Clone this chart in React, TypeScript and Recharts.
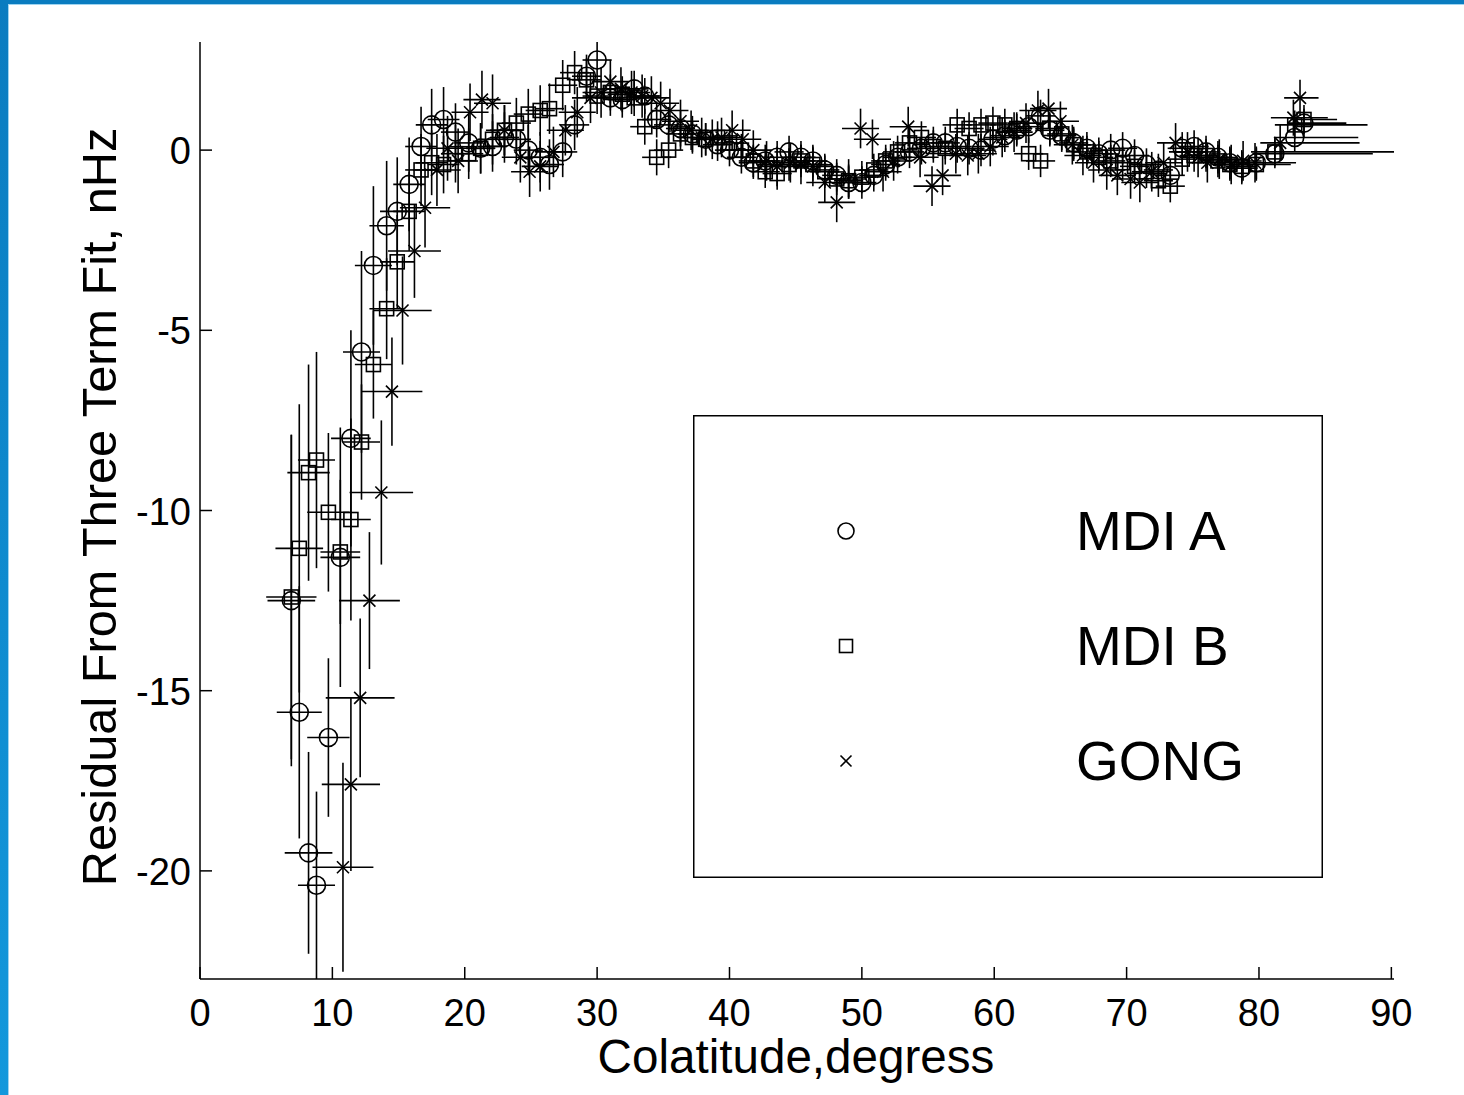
import { ScatterChart, Scatter, XAxis, YAxis, ErrorBar, Legend } from "recharts";

const FONT = '"Liberation Sans", Arial, Helvetica, sans-serif';
const INK = "#000";

const xTicks = [0, 10, 20, 30, 40, 50, 60, 70, 80, 90];
const yTicks = [-20, -15, -10, -5, 0];
const seriesNames = ["MDI A", "MDI B", "GONG"];

// MDI A and MDI B share the same colatitude bins
const mdiColat = [
  6.9, 7.5, 8.2, 8.8, 9.7, 10.6, 11.4, 12.2, 13.1, 14.1, 14.9, 15.8, 16.7, 17.5, 18.4,
  19.3, 20.3, 21.2, 22.1, 23.0, 23.9, 24.8, 25.7, 26.4, 27.4, 28.3, 29.2, 30.0,
  31.0, 31.9, 32.8, 33.6, 34.5, 35.4, 36.3, 37.2, 38.2, 39.1, 40.0,
  40.9, 41.8, 42.7, 43.6, 44.5, 45.4, 46.3, 47.2, 48.1, 49.0, 50.0,
  50.9, 51.8, 52.7, 53.6, 54.5, 55.4, 56.3, 57.2, 58.1, 59.0, 59.9,
  60.8, 61.7, 62.6, 63.5, 64.2, 65.1, 66.0, 67.0, 67.9, 68.8, 69.7,
  70.6, 71.5, 72.4, 73.3, 74.2, 75.1, 76.0, 76.9, 77.8, 78.7, 79.8,
  81.2, 82.7, 83.4,
];

const mdiAResid = [
  -12.5, -15.6, -19.5, -20.4, -16.3, -11.3, -8.0, -5.6, -3.2, -2.1, -1.7, -0.95, 0.1, 0.7, 0.85,
  0.5, 0.2, 0.05, 0.1, 0.35, 0.3, 0.0, -0.2, -0.4, -0.05, 0.7, 2.05, 2.5,
  1.45, 1.4, 1.7, 1.5, 0.85, 0.7, 0.6, 0.45, 0.3, 0.15, 0.0,
  -0.2, -0.35, -0.3, -0.2, -0.05, -0.2, -0.3, -0.55, -0.7, -0.9, -0.9,
  -0.7, -0.4, -0.2, -0.05, 0.05, 0.2, 0.2, 0.1, 0.05, 0.0, 0.3,
  0.4, 0.55, 0.65, 0.95, 0.55, 0.4, 0.2, 0.05, -0.1, 0.0, 0.05,
  -0.15, -0.4, -0.55, -0.7, 0.05, 0.1, -0.05, -0.2, -0.35, -0.5, -0.35,
  -0.1, 0.35, 0.75,
];

const mdiAResidErr = [
  4.6, 3.5, 2.8, 2.6, 2.2, 3.6, 3.0, 2.8, 2.2, 1.8, 1.5, 1.3, 1.1, 1.0, 0.9,
  0.8, 0.8, 0.7, 0.7, 0.7, 0.7, 0.7, 0.7, 0.7, 0.7, 0.7, 0.6, 0.5,
  0.5, 0.5, 0.5, 0.5, 0.5, 0.5, 0.5, 0.5, 0.45, 0.45, 0.45,
  0.45, 0.45, 0.45, 0.45, 0.45, 0.45, 0.45, 0.45, 0.45, 0.45, 0.45,
  0.45, 0.45, 0.45, 0.45, 0.45, 0.45, 0.45, 0.45, 0.45, 0.45, 0.45,
  0.45, 0.45, 0.45, 0.45, 0.45, 0.45, 0.45, 0.45, 0.45, 0.45, 0.45,
  0.45, 0.45, 0.45, 0.45, 0.45, 0.45, 0.45, 0.45, 0.45, 0.45, 0.45,
  0.4, 0.4, 0.4,
];

const mdiAColatErr: (number | number[])[] = [
  1.8, 1.7, 1.8, 1.4, 1.6, 1.5, 1.5, 1.4, 1.4, 1.3, 1.3, 1.2, 1.2, 1.2, 1.2,
  1.1, 1.1, 1.1, 1.1, 1.1, 1.1, 1.1, 1.1, 1.1, 1.1, 1.1, 1.1, 1.1,
  1.1, 1.1, 1.1, 1.1, 1.1, 1.1, 1.1, 1.1, 1.1, 1.1, 1.1,
  1.1, 1.1, 1.1, 1.1, 1.1, 1.1, 1.1, 1.1, 1.1, 1.1, 1.1,
  1.1, 1.1, 1.1, 1.1, 1.1, 1.1, 1.1, 1.1, 1.1, 1.1, 1.1,
  1.1, 1.1, 1.1, 1.1, 1.1, 1.1, 1.1, 1.1, 1.1, 1.1, 1.1,
  1.1, 1.1, 1.1, 1.1, 1.1, 1.1, 1.1, 1.1, 1.2, 1.2, [1.4, 3.0],
  [1.7, 7.4], [1.5, 4.8], [1.2, 3.2],
];

const mdiBResid = [
  -12.4, -11.05, -8.95, -8.6, -10.05, -11.15, -10.25, -8.1, -5.95, -4.4, -3.1, -1.7, -0.55, -0.35, -0.4,
  -0.1, -0.1, 0.05, 0.3, 0.55, 0.75, 1.0, 1.1, 1.15, 1.8, 2.15, 1.95, 1.5,
  1.6, 1.55, 1.45, 0.65, -0.2, 0.0, 0.45, 0.35, 0.3, 0.35, 0.2,
  0.0, -0.3, -0.6, -0.65, -0.4, -0.3, -0.4, -0.6, -0.8, -0.85, -0.75,
  -0.55, -0.3, -0.05, 0.2, 0.35, 0.1, 0.05, 0.7, 0.6, 0.7, 0.75,
  0.7, 0.6, -0.1, -0.3, 0.6, 0.45, 0.15, -0.05, -0.2, -0.3, -0.35,
  -0.45, -0.6, -0.85, -1.0, -0.25, -0.15, -0.15, -0.3, -0.4, -0.45, -0.4,
  -0.05, 0.7, 0.85,
];

const mdiBResidErr = [
  4.5, 4.0, 3.0, 3.0, 2.2, 2.0, 2.8, 1.6, 1.5, 1.4, 1.3, 1.1, 1.0, 0.9, 0.8,
  0.8, 0.7, 0.7, 0.7, 0.7, 0.7, 0.7, 0.7, 0.7, 0.7, 0.6, 0.6, 0.5,
  0.5, 0.5, 0.5, 0.5, 0.5, 0.5, 0.45, 0.45, 0.45, 0.45, 0.45,
  0.45, 0.45, 0.45, 0.45, 0.45, 0.45, 0.45, 0.45, 0.45, 0.45, 0.45,
  0.45, 0.45, 0.45, 0.45, 0.45, 0.45, 0.45, 0.45, 0.45, 0.45, 0.45,
  0.45, 0.45, 0.45, 0.45, 0.45, 0.45, 0.45, 0.45, 0.45, 0.45, 0.45,
  0.45, 0.45, 0.45, 0.45, 0.45, 0.45, 0.45, 0.45, 0.45, 0.45, 0.45,
  0.4, 0.4, 0.4,
];

const mdiBColatErr: (number | number[])[] = [
  1.9, 1.8, 1.6, 1.4, 1.6, 1.5, 1.5, 1.4, 1.4, 1.3, 1.3, 1.2, 1.2, 1.2, 1.2,
  1.1, 1.1, 1.1, 1.1, 1.1, 1.1, 1.1, 1.1, 1.1, 1.1, 1.1, 1.1, 1.1,
  1.1, 1.1, 1.1, 1.1, 1.1, 1.1, 1.1, 1.1, 1.1, 1.1, 1.1,
  1.1, 1.1, 1.1, 1.1, 1.1, 1.1, 1.1, 1.1, 1.1, 1.1, 1.1,
  1.1, 1.1, 1.1, 1.1, 1.1, 1.1, 1.1, 1.1, 1.1, 1.1, 1.1,
  1.1, 1.1, 1.1, 1.1, 1.1, 1.1, 1.1, 1.1, 1.1, 1.1, 1.1,
  1.1, 1.1, 1.1, 1.1, 1.1, 1.1, 1.1, 1.1, 1.2, 1.2, [1.4, 2.6],
  [1.8, 9.0], [1.5, 5.5], [1.0, 2.5],
];

const gongColat = [
  10.8, 11.4, 12.1, 12.8, 13.7, 14.5, 15.3, 16.2, 17.0, 17.9, 18.7, 19.5,
  20.4, 21.3, 22.1, 23.0, 24.2, 24.9, 25.7, 26.7, 27.6, 28.5, 29.5, 30.3,
  31.0, 31.8, 32.6, 33.4, 34.1, 34.8, 35.5, 36.3, 37.1, 37.9, 38.7, 39.4,
  40.2, 41.0, 41.8, 42.8, 43.6, 44.6, 45.4, 46.3, 47.2, 48.1, 49.0, 49.9,
  50.8, 51.6, 52.4, 53.5, 54.4, 55.3, 56.1, 57.1, 58.0, 58.8, 59.7,
  60.6, 61.5, 62.4, 63.3, 64.1, 65.0, 65.9, 66.7, 67.5, 68.5, 69.3,
  70.3, 71.0, 71.9, 72.8, 73.7, 74.6, 75.4, 76.1, 77.0, 77.9, 78.8, 79.7,
  81.6, 82.6, 83.1,
];

const gongResid = [
  -19.9, -17.6, -15.2, -12.5, -9.5, -6.7, -4.45, -2.8, -1.6, -0.55, 0.05, -0.3,
  1.05, 1.4, 1.3, 0.55, -0.2, -0.6, -0.45, -0.05, 0.55, 1.05, 1.45, 1.6,
  1.9, 1.7, 1.6, 1.5, 1.45, 1.3, 1.1, 0.8, 0.55, 0.35, 0.3, 0.35,
  0.55, 0.3, 0.0, -0.3, -0.45, -0.35, -0.4, -0.45, -0.9, -1.45, -0.8, 0.6,
  0.3, -0.6, -0.3, 0.65, -0.2, -1.0, -0.7, -0.1, -0.15, -0.1, 0.1,
  0.35, 0.5, 0.75, 1.1, 1.15, 0.8, 0.15, -0.15, -0.35, -0.55, -0.7,
  -0.8, -0.9, -0.6, -0.35, 0.2, -0.05, -0.2, -0.35, -0.25, -0.4, -0.3, -0.35,
  0.2, 0.9, 1.45,
];

const gongResidErr = [
  2.9, 2.4, 2.2, 1.9, 2.0, 1.5, 1.5, 1.3, 1.1, 1.0, 0.9, 0.9,
  0.8, 0.8, 0.8, 0.7, 0.7, 0.7, 0.7, 0.7, 0.7, 0.7, 0.7, 0.7,
  0.6, 0.6, 0.6, 0.6, 0.6, 0.6, 0.6, 0.6, 0.55, 0.55, 0.55, 0.55,
  0.55, 0.55, 0.55, 0.55, 0.55, 0.55, 0.55, 0.55, 0.55, 0.55, 0.55, 0.55,
  0.55, 0.55, 0.55, 0.55, 0.55, 0.55, 0.55, 0.55, 0.55, 0.55, 0.55,
  0.55, 0.55, 0.55, 0.55, 0.55, 0.55, 0.55, 0.55, 0.55, 0.55, 0.55,
  0.55, 0.55, 0.55, 0.55, 0.55, 0.55, 0.55, 0.55, 0.55, 0.55, 0.55, 0.55,
  0.5, 0.5, 0.5,
];

const gongColatErr: (number | number[])[] = [
  2.3, 2.2, 2.6, 2.3, 2.4, 2.3, 2.2, 2.0, 1.9, 1.8, 1.6, 1.5,
  1.4, 1.4, 1.4, 1.4, 1.4, 1.4, 1.4, 1.4, 1.4, 1.4, 1.4, 1.4,
  1.4, 1.4, 1.4, 1.4, 1.4, 1.4, 1.4, 1.4, 1.4, 1.4, 1.4, 1.4,
  1.4, 1.4, 1.4, 1.4, 1.4, 1.4, 1.4, 1.4, 1.4, 1.4, 1.4, 1.4,
  1.4, 1.4, 1.4, 1.4, 1.4, 1.4, 1.4, 1.4, 1.4, 1.4, 1.4,
  1.4, 1.4, 1.4, 1.4, 1.4, 1.4, 1.4, 1.4, 1.4, 1.4, 1.4,
  1.4, 1.4, 1.4, 1.4, 1.4, 1.4, 1.4, 1.4, 1.4, 1.4, 1.4, 1.4,
  [1.5, 6.0], [1.7, 2.6], [1.2, 1.4],
];

type Point = { x: number; y: number; ex: number | number[]; ey: number };

function buildSeries(
  colat: number[],
  resid: number[],
  colatErr: (number | number[])[],
  residErr: number[]
): Point[] {
  return colat.map((x, i) => ({ x, y: resid[i], ex: colatErr[i], ey: residErr[i] }));
}

const mdiA = buildSeries(mdiColat, mdiAResid, mdiAColatErr, mdiAResidErr);
const mdiB = buildSeries(mdiColat, mdiBResid, mdiBColatErr, mdiBResidErr);
const gong = buildSeries(gongColat, gongResid, gongColatErr, gongResidErr);

const CircleMark = ({ cx, cy, r = 9 }: any) => (
  <circle cx={cx} cy={cy} r={r} fill="none" stroke={INK} strokeWidth={1.6} />
);

const SquareMark = ({ cx, cy, s = 7 }: any) => (
  <rect x={cx - s} y={cy - s} width={2 * s} height={2 * s} fill="none" stroke={INK} strokeWidth={1.6} />
);

const CrossMark = ({ cx, cy, s = 6 }: any) => (
  <path
    d={`M${cx - s},${cy - s}L${cx + s},${cy + s}M${cx - s},${cy + s}L${cx + s},${cy - s}`}
    stroke={INK}
    strokeWidth={1.6}
    fill="none"
  />
);

const XTick = ({ x, y, payload }: any) => (
  <g>
    <line x1={x} y1={y} x2={x} y2={y - 12} stroke={INK} strokeWidth={1.5} />
    <text x={x} y={y + 47} textAnchor="middle" fontSize={38} fontFamily={FONT} fill={INK}>
      {payload.value}
    </text>
  </g>
);

const YTick = ({ x, y, payload }: any) => (
  <g>
    <line x1={x} y1={y} x2={x + 12} y2={y} stroke={INK} strokeWidth={1.5} />
    <text x={x - 9} y={y + 14} textAnchor="end" fontSize={38} fontFamily={FONT} fill={INK}>
      {payload.value}
    </text>
  </g>
);

const XTitle = () => (
  <text x={796} y={1073} textAnchor="middle" fontSize={47.6} fontFamily={FONT} fill={INK}>
    Colatitude,degress
  </text>
);

const YTitle = () => (
  <text
    x={116}
    y={507}
    transform="rotate(-90, 116, 507)"
    textAnchor="middle"
    fontSize={48.7}
    fontFamily={FONT}
    fill={INK}
  >
    Residual From Three Term Fit, nHz
  </text>
);

const legendMarks = [
  <CircleMark cx={153} cy={116} r={8} />,
  <SquareMark cx={153} cy={231} s={6.5} />,
  <CrossMark cx={153} cy={346} s={5.5} />,
];

const LegendBox = () => (
  <svg width={630} height={463} style={{ display: "block" }}>
    <rect x={0.75} y={0.75} width={628.5} height={461.5} fill="#fff" stroke={INK} strokeWidth={1.5} />
    {seriesNames.map((name, i) => (
      <g key={name}>
        {legendMarks[i]}
        <text x={383} y={135 + i * 115} fontSize={55} fontFamily={FONT} fill={INK}>
          {name}
        </text>
      </g>
    ))}
  </svg>
);

export default function App() {
  return (
    <div
      style={{
        position: "fixed",
        left: 0,
        top: 0,
        width: 1464,
        height: 1095,
        background: "#fff",
        overflow: "hidden",
      }}
    >
      <div style={{ position: "absolute", left: 0, top: 0, width: 1464, height: 4, background: "#0a7cc0" }} />
      <div style={{ position: "absolute", left: 0, top: 4, width: 1464, height: 1, background: "#9fd4f0" }} />
      <div
        style={{
          position: "absolute",
          left: 0,
          top: 0,
          width: 8,
          height: 1095,
          background: "linear-gradient(#0a7cc0, #1398dc)",
        }}
      />
      <div style={{ position: "absolute", left: 8, top: 4, width: 1, height: 1091, background: "#9fd4f0" }} />
      <ScatterChart width={1464} height={1095} margin={{ top: 42, right: 70, left: 0, bottom: 0 }}>
        <XAxis
          type="number"
          dataKey="x"
          domain={[0, 90]}
          ticks={xTicks}
          interval={0}
          height={116}
          tickSize={0}
          tickMargin={0}
          tickLine={false}
          axisLine={{ stroke: INK, strokeWidth: 1.5 }}
          tick={<XTick />}
          label={XTitle}
        />
        <YAxis
          type="number"
          dataKey="y"
          domain={[-23, 3]}
          ticks={yTicks}
          interval={0}
          width={200}
          tickSize={0}
          tickMargin={0}
          tickLine={false}
          axisLine={{ stroke: INK, strokeWidth: 1.5 }}
          tick={<YTick />}
          label={YTitle}
        />
        <Legend
          layout="horizontal"
          verticalAlign="middle"
          align="center"
          content={<LegendBox />}
          wrapperStyle={{ left: 693, top: 415, width: 630, height: 463 }}
        />
        <Scatter name="MDI A" data={mdiA} shape={<CircleMark />} isAnimationActive={false}>
          <ErrorBar dataKey="ex" direction="x" width={0} stroke={INK} strokeWidth={1.6} isAnimationActive={false} />
          <ErrorBar dataKey="ey" direction="y" width={0} stroke={INK} strokeWidth={1.6} isAnimationActive={false} />
        </Scatter>
        <Scatter name="MDI B" data={mdiB} shape={<SquareMark />} isAnimationActive={false}>
          <ErrorBar dataKey="ex" direction="x" width={0} stroke={INK} strokeWidth={1.6} isAnimationActive={false} />
          <ErrorBar dataKey="ey" direction="y" width={0} stroke={INK} strokeWidth={1.6} isAnimationActive={false} />
        </Scatter>
        <Scatter name="GONG" data={gong} shape={<CrossMark />} isAnimationActive={false}>
          <ErrorBar dataKey="ex" direction="x" width={0} stroke={INK} strokeWidth={1.6} isAnimationActive={false} />
          <ErrorBar dataKey="ey" direction="y" width={0} stroke={INK} strokeWidth={1.6} isAnimationActive={false} />
        </Scatter>
      </ScatterChart>
    </div>
  );
}
